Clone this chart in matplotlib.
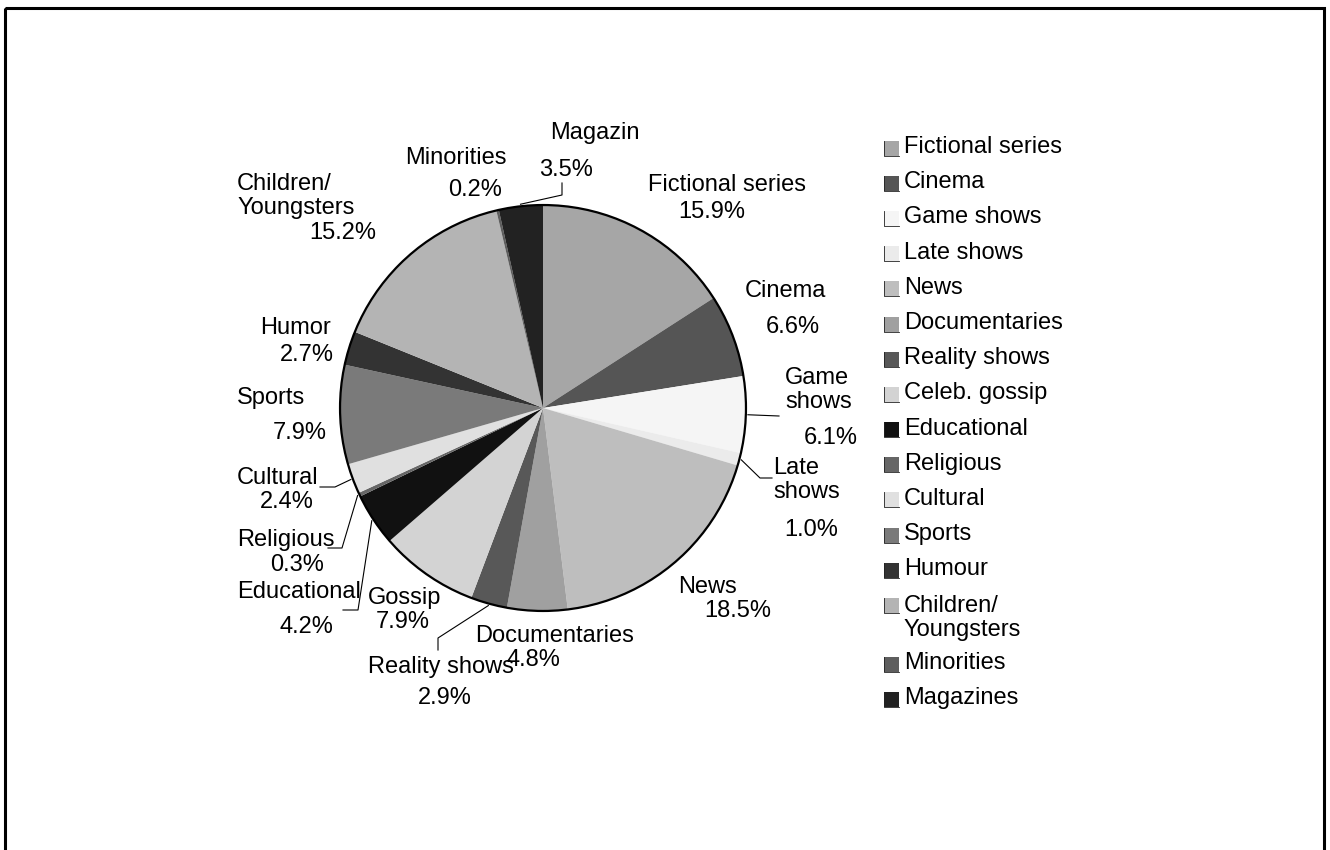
import numpy as np
import matplotlib
matplotlib.use("Agg")
import matplotlib.pyplot as plt
from matplotlib.patches import Rectangle, Circle

plt.rcParams['font.family'] = ['Liberation Sans', 'DejaVu Sans']

# ---- data -------------------------------------------------------------
legend_labels = ["Fictional series", "Cinema", "Game shows", "Late shows", "News",
                 "Documentaries", "Reality shows", "Celeb. gossip", "Educational",
                 "Religious", "Cultural", "Sports", "Humour", "Children/\nYoungsters",
                 "Minorities", "Magazines"]
slice_labels = ["Fictional series", "Cinema", "Game\nshows", "Late\nshows", "News",
                "Documentaries", "Reality shows", "Gossip", "Educational",
                "Religious", "Cultural", "Sports", "Humor", "Children/\nYoungsters",
                "Minorities", "Magazin"]
shares = [15.9, 6.6, 6.1, 1.0, 18.5, 4.8, 2.9, 7.9, 4.2, 0.3, 2.4, 7.9, 2.7, 15.2, 0.2, 3.5]
colors = ["#a6a6a6", "#555555", "#f5f5f5", "#ebebeb", "#bebebe", "#a0a0a0", "#585858",
          "#d3d3d3", "#111111", "#666666", "#e0e0e0", "#7a7a7a", "#333333", "#b4b4b4",
          "#5e5e5e", "#222222"]

# ---- layout (pixel space) --------------------------------------------
W, H = 1330, 850
CX, CY, R = 543, 408, 205
FS = 17

# name text position (x, y, ha) and percentage text centre (x, y)
name_pos = [(727, 185, 'center'), (785, 291, 'center'), (785, 390, 'left'),
            (773, 480, 'left'), (707, 587, 'center'), (555, 636, 'center'),
            (441, 667, 'center'), (405, 598, 'center'), (237, 592, 'left'),
            (237, 540, 'left'), (237, 478, 'left'), (237, 398, 'left'),
            (260, 328, 'left'), (237, 196, 'left'), (405, 158, 'left'),
            (550, 133, 'left')]
pct_pos = [(712, 212), (793, 327), (831, 438), (811, 530), (738, 611), (533, 660),
           (445, 698), (403, 622), (306, 627), (297, 565), (287, 502), (300, 433),
           (307, 355), (343, 233), (475, 190), (566, 170)]
# leader lines: elbow point and end point for the slices that need them
leaders = {2: [(779, 416)],
           3: [(760, 478), (772, 478)],
           6: [(438, 638), (438, 650)],
           8: [(358, 610), (343, 610)],
           9: [(342, 548), (328, 548)],
           10: [(335, 487), (320, 487)],
           15: [(562, 195), (562, 183)]}

fig = plt.figure(figsize=(W / 100, H / 100), dpi=100)

# overlay axes in pixel coordinates for text, legend and frame
ov = fig.add_axes([0, 0, 1, 1])
ov.set_xlim(0, W)
ov.set_ylim(H, 0)
ov.axis('off')

# pie axes
ax = fig.add_axes([(CX - R) / W, (H - CY - R) / H, 2 * R / W, 2 * R / H])
wedges, _ = ax.pie(shares, colors=colors, startangle=90, counterclock=False,
                   wedgeprops=dict(linewidth=0, edgecolor='none'))
ax.add_patch(Circle((0, 0), 1.0, fill=False, edgecolor='black', linewidth=1.6))
ax.set_xlim(-1.01, 1.01)
ax.set_ylim(-1.01, 1.01)
ax.set_aspect('equal')
ax.axis('off')

# labels and leader lines
for i, (name, val) in enumerate(zip(slice_labels, shares)):
    x, y, ha = name_pos[i]
    ov.text(x, y, name, ha=ha, va='center', fontsize=FS, color='black',
            multialignment='left', linespacing=1.12)
    px, py = pct_pos[i]
    ov.text(px, py, f"{val:.1f}%", ha='center', va='center', fontsize=FS, color='black')
    if i in leaders:
        w = wedges[i]
        mid = np.deg2rad((w.theta1 + w.theta2) / 2)
        sx = CX + R * np.cos(mid)
        sy = CY - R * np.sin(mid)
        pts = [(sx, sy)] + leaders[i]
        ov.plot([p[0] for p in pts], [p[1] for p in pts], color='black', lw=0.8)

# legend
LX, LY0, STEP, LINE = 884, 148, 35.2, 26
y = LY0
for lab, col in zip(legend_labels, colors):
    ov.add_patch(Rectangle((LX, y - 7.5), 15, 15, facecolor=col, edgecolor='none'))
    ov.plot([LX, LX, LX + 15], [y - 7.5, y + 7.5, y + 7.5], color='#222222', lw=0.6)
    nlines = lab.count('\n') + 1
    ov.text(LX + 20, y - 1 + (nlines - 1) * LINE / 2, lab, ha='left', va='center',
            fontsize=FS, linespacing=1.12)
    y += STEP + (nlines - 1) * LINE * 0.9

# outer frame
ov.add_patch(Rectangle((5, 8), 1319, 860, fill=False, edgecolor='black', lw=2.2))

fig.savefig("out.png", dpi=100)
